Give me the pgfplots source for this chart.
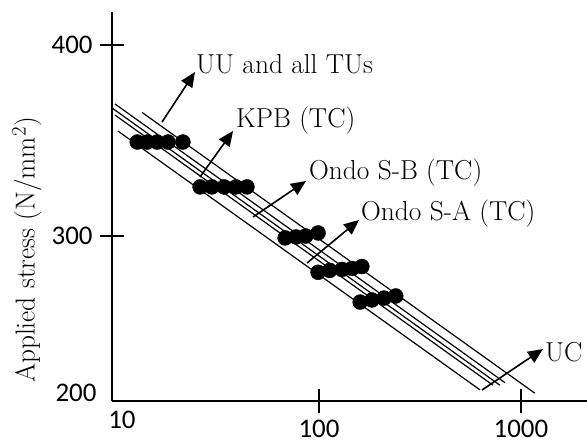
\documentclass[border=0pt]{standalone}
\usepackage{fontspec}
\usepackage{pgfplots}
\pgfplotsset{compat=1.18}
\usetikzlibrary{arrows.meta}
\newfontfamily\carlito{Carlito}
\begin{document}
\begin{tikzpicture}
\useasboundingbox (0,0) rectangle (587bp,446bp);
\begin{axis}[
  at={(112bp,45bp)}, anchor=south west,
  scale only axis, width=475bp, height=389bp,
  xmode=log, xmin=9.45, xmax=2123, ymin=213.6, ymax=417.3,
  axis x line=bottom, axis y line=left,
  axis line style={-, line width=1.5bp},
  xtick={100,1000}, xticklabels={100,1000},
  extra x ticks={10}, extra x tick labels={10},
  extra x tick style={major tick length=0pt, xticklabel style={yshift=-3bp, xshift=5bp}},
  ytick={300,400}, yticklabels={300,400},
  minor x tick num=0, xminorticks=false,
  tick align=center, major tick length=24bp,
  tick style={line width=1.3bp, black},
  xticklabel style={font=\carlito\fontsize{27}{30}\selectfont, anchor=north, yshift=-4bp},
  yticklabel style={font=\carlito\fontsize{27}{30}\selectfont, anchor=east, xshift=-4bp},
  ylabel={Applied stress (N/mm$^2$)},
  every axis y label/.style={at={(rel axis cs:0,0.388)}, xshift=-85bp, rotate=90, anchor=center, font=\fontsize{27.5}{31}\selectfont},
  clip=false,
]
% fitted lines (S-N lines)
\addplot[black, line width=1.2bp, no marks] coordinates {(13.30,364.73) (1172,217.68)};
\addplot[black, line width=1.2bp, no marks] coordinates {(9.77,369.16) (833.7,223.17)};
\addplot[black, line width=1.2bp, no marks] coordinates {(9.55,366.71) (787,221.86)};
\addplot[black, line width=1.2bp, no marks] coordinates {(9.77,363.36) (726,221.91)};
\addplot[black, line width=1.2bp, no marks] coordinates {(10.12,354.92) (626.6,219.45)};
% data points
\addplot[only marks, mark=*, mark size=7.5bp, black] coordinates {
 (12.6,349.2) (14.1,349.2) (15.8,349.2) (17.9,349.2) (21.2,349.2)};
\addplot[only marks, mark=*, mark size=7.5bp, black] coordinates {
 (25.8,325.7) (29.5,325.7) (33.9,325.7) (38.8,325.7) (44.0,325.7)};
\addplot[only marks, mark=*, mark size=7.5bp, black] coordinates {
 (68,299) (77,299.5) (86,300) (99,301.6)};
\addplot[only marks, mark=*, mark size=7.5bp, black] coordinates {
 (99,281) (113,282) (130,282.5) (146,283) (163,284)};
\addplot[only marks, mark=*, mark size=7.5bp, black] coordinates {
 (160,265.4) (183,266.5) (210,267.5) (240,268.6)};
\end{axis}
\node[font=\carlito\fontsize{27}{30}\selectfont] at (76bp,53bp) {200};
\begin{scope}[x=1bp, y=-1bp, shift={(0bp,446bp)}, font=\fontsize{27.5}{31}\selectfont]
\draw[line width=1.6bp, -{Triangle[length=15bp,width=13bp]}] (162,122) -- (195,72);
\node[anchor=west, inner sep=0pt] at (196,64) {UU and all TUs};
\draw[line width=1.6bp, -{Triangle[length=15bp,width=13bp]}] (200,177) -- (233,131);
\node[anchor=west, inner sep=0pt] at (236,121) {KPB (TC)};
\draw[line width=1.6bp, -{Triangle[length=15bp,width=13bp]}] (253,217) -- (306,181);
\node[anchor=west, inner sep=0pt] at (309,173) {Ondo S-B (TC)};
\draw[line width=1.6bp, -{Triangle[length=15bp,width=13bp]}] (307,263) -- (359,220);
\node[anchor=west, inner sep=0pt] at (361,214) {Ondo S-A (TC)};
\draw[line width=1.6bp, -{Triangle[length=15bp,width=13bp]}] (482,390) -- (543,349);
\node[anchor=west, inner sep=0pt] at (545,352) {UC};
\end{scope}
\end{tikzpicture}
\end{document}
